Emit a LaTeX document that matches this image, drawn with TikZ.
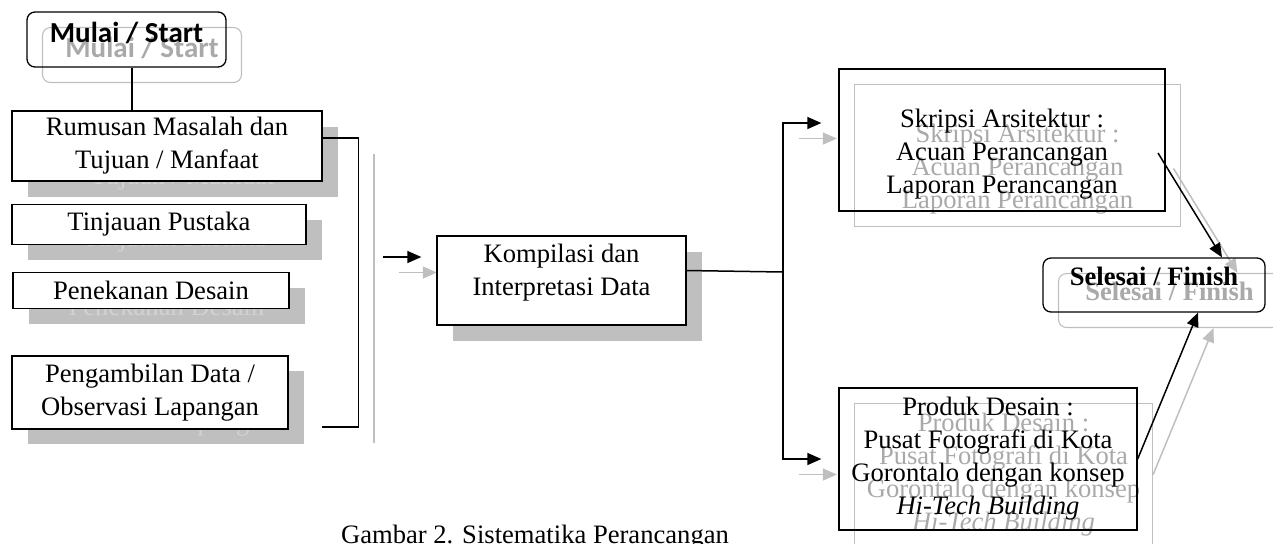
\documentclass[tikz,border=0pt]{standalone}
\usepackage{fontspec}
\setmainfont{Liberation Serif}
\newfontfamily\calibrifont{Carlito}
\usetikzlibrary{arrows.meta, positioning, backgrounds, calc}
\definecolor{shadefill}{HTML}{BFBFBF}
\definecolor{shadeline}{HTML}{BFBFBF}
\definecolor{ghosttext}{HTML}{A9A9A9}
\definecolor{ghostdim}{HTML}{D2D2D2}
\newcommand{\toppad}[1]{\rule{0pt}{#1}}
\newcommand{\botpad}[1]{\rule[-#1]{0pt}{#1}}
\tikzset{
  box/.style={rectangle, draw=black, line width=0.65pt, align=center,
              inner sep=0pt, font=\fontsize{13.3pt}{16.5pt}\selectfont},
  solidbox/.style={box, fill=white},
  openbox/.style={box},
  roundbox/.style={box, rounded corners=4pt},
  shadebox/.style={box, draw=none, fill=shadefill, text=ghostdim},
  ghostbox/.style={box, draw=shadeline, line width=0.55pt, text=ghosttext},
  startfont/.style={font=\calibrifont\bfseries\fontsize{14.5pt}{17pt}\selectfont},
  endfont/.style={font=\bfseries\fontsize{13.3pt}{16.5pt}\selectfont},
  line/.style={line width=0.75pt},
  arrow/.style={line, -{Triangle[length=7pt, width=6pt]}},
  ghostline/.style={line, draw=shadeline,
                    transform canvas={shift={(7.75pt,-7.75pt)}}},
  ghostarrow/.style={arrow, draw=shadeline, fill=shadeline,
                     transform canvas={shift={(7.75pt,-7.75pt)}}},
}

\begin{document}
\begin{tikzpicture}[x=0.5pt, y=-0.5pt]
  \useasboundingbox (0,0) rectangle (1273,543);

  % --- start and left column ---
  \node[roundbox, startfont, minimum width=99.5pt, minimum height=27.5pt]
    (mulai) at (126.5,39.5) {Mulai / Start\botpad{7.5pt}};
  \node[solidbox, minimum width=155pt, minimum height=35pt]
    (rumusan) at (167,146) {Rumusan Masalah dan\\Tujuan / Manfaat};
  \node[solidbox, minimum width=147pt, minimum height=20pt,
        below right=11pt and 0pt of rumusan.south west]
    (tinjauan) {Tinjauan Pustaka};
  \node[solidbox, minimum width=138pt, minimum height=18pt,
        below right=13.5pt and 0.5pt of tinjauan.south west]
    (penekanan) {Penekanan Desain};
  \node[solidbox, minimum width=138pt, minimum height=36.5pt,
        below right=23pt and -0.5pt of penekanan.south west]
    (pengambilan) {Pengambilan Data /\\Observasi Lapangan};

  % --- middle ---
  \node[solidbox, minimum width=124.5pt, minimum height=44.5pt]
    (kompilasi) at (561.5,280.5) {Kompilasi dan\\Interpretasi Data\botpad{10.9pt}};

  % --- right column ---
  \node[openbox, minimum width=163pt, minimum height=71pt]
    (skripsi) at (1002,140)
    {\toppad{23.1pt}Skripsi Arsitektur :\\Acuan Perancangan\\Laporan Perancangan};
  \node[openbox, minimum width=149pt, minimum height=71pt]
    (produk) at (988,459)
    {Produk Desain :\\Pusat Fotografi di Kota\\Gorontalo dengan konsep\\\textit{Hi-Tech Building}};
  \node[roundbox, endfont, minimum width=111pt, minimum height=27pt]
    (selesai) at (1154,285) {Selesai / Finish\botpad{9pt}};

  % --- caption ---
  \node[font=\fontsize{13.3pt}{16.5pt}\selectfont, anchor=base]
    (caption) at (535,543) {Gambar 2. Sistematika Perancangan};

  % --- connectors ---
  \coordinate (m-out) at ([xshift=2.75pt]mulai.south);
  \draw[line, line width=0.65pt] (m-out) -- (m-out |- rumusan.north);

  \coordinate (brk-top) at ([yshift=4pt]rumusan.east);
  \coordinate (brk-bot) at (322,427);
  \draw[line] (brk-top) -- ++(18pt,0) coordinate (brk-a) |- (brk-bot);

  \coordinate (k-in) at (383,257);
  \draw[arrow, shorten >=7.5pt] (k-in) -- (k-in -| kompilasi.west);

  \coordinate (k-out) at ([yshift=5pt]kompilasi.east);
  \coordinate (fork) at (783,272);
  \coordinate (skripsi-in) at ([yshift=8.5pt]skripsi.west);
  \draw[line] (k-out) -- (fork);
  \draw[arrow, shorten >=8.5pt] (fork) |- (skripsi-in);
  \draw[arrow, shorten >=8.5pt] (fork) |- (produk.west);

  \coordinate (s-out) at (1158,153);
  \draw[arrow] (s-out) -- ([xshift=34pt]selesai.north);
  \draw[arrow] (produk.east) -- ([xshift=22pt]selesai.south);

  % --- shadows ---
  \begin{scope}[on background layer]
    \node[ghostbox, startfont, rounded corners=4pt, minimum width=99.5pt, minimum height=27.5pt]
      (mulai-sh) at ([shift={(7.75pt,-7.75pt)}]mulai.center) {Mulai / Start\botpad{7.5pt}};
    \node[shadebox, minimum width=155pt, minimum height=35pt]
      (rumusan-sh) at ([shift={(7.75pt,-7.75pt)}]rumusan.center) {Rumusan Masalah dan\\Tujuan / Manfaat};
    \node[shadebox, minimum width=147pt, minimum height=20pt]
      (tinjauan-sh) at ([shift={(7.75pt,-7.75pt)}]tinjauan.center) {Tinjauan Pustaka};
    \node[shadebox, minimum width=138pt, minimum height=18pt]
      (penekanan-sh) at ([shift={(7.75pt,-7.75pt)}]penekanan.center) {Penekanan Desain};
    \node[shadebox, minimum width=138pt, minimum height=36.5pt]
      (pengambilan-sh) at ([shift={(7.75pt,-7.75pt)}]pengambilan.center) {Pengambilan Data /\\Observasi Lapangan};
    \node[shadebox, minimum width=124.5pt, minimum height=44.5pt]
      (kompilasi-sh) at ([shift={(7.75pt,-7.75pt)}]kompilasi.center) {Kompilasi dan\\Interpretasi Data\botpad{10.9pt}};
    \node[ghostbox, minimum width=163pt, minimum height=71pt]
      (skripsi-sh) at ([shift={(7.75pt,-7.75pt)}]skripsi.center)
      {\toppad{23.1pt}Skripsi Arsitektur :\\Acuan Perancangan\\Laporan Perancangan};
    \node[ghostbox, minimum width=149pt, minimum height=71pt]
      (produk-sh) at ([shift={(7.75pt,-7.75pt)}]produk.center)
      {Produk Desain :\\Pusat Fotografi di Kota\\Gorontalo dengan konsep\\\textit{Hi-Tech Building}};
    \node[ghostbox, endfont, rounded corners=4pt, minimum width=111pt, minimum height=27pt]
      (selesai-sh) at ([shift={(7.75pt,-7.75pt)}]selesai.center) {Selesai / Finish\botpad{9pt}};

    \draw[ghostline] (brk-a) -- (brk-a |- brk-bot);
    \draw[ghostarrow, shorten >=7.5pt] (k-in) -- (k-in -| kompilasi.west);
    \draw[ghostarrow, shorten >=8.5pt] (fork |- skripsi-in) -- (skripsi-in);
    \draw[ghostarrow, shorten >=8.5pt] (fork |- produk.west) -- (produk.west);
    \draw[ghostarrow] (s-out) -- ([xshift=34pt]selesai.north);
    \draw[ghostarrow] (produk.east) -- ([xshift=22pt]selesai.south);
  \end{scope}
\end{tikzpicture}
\end{document}
